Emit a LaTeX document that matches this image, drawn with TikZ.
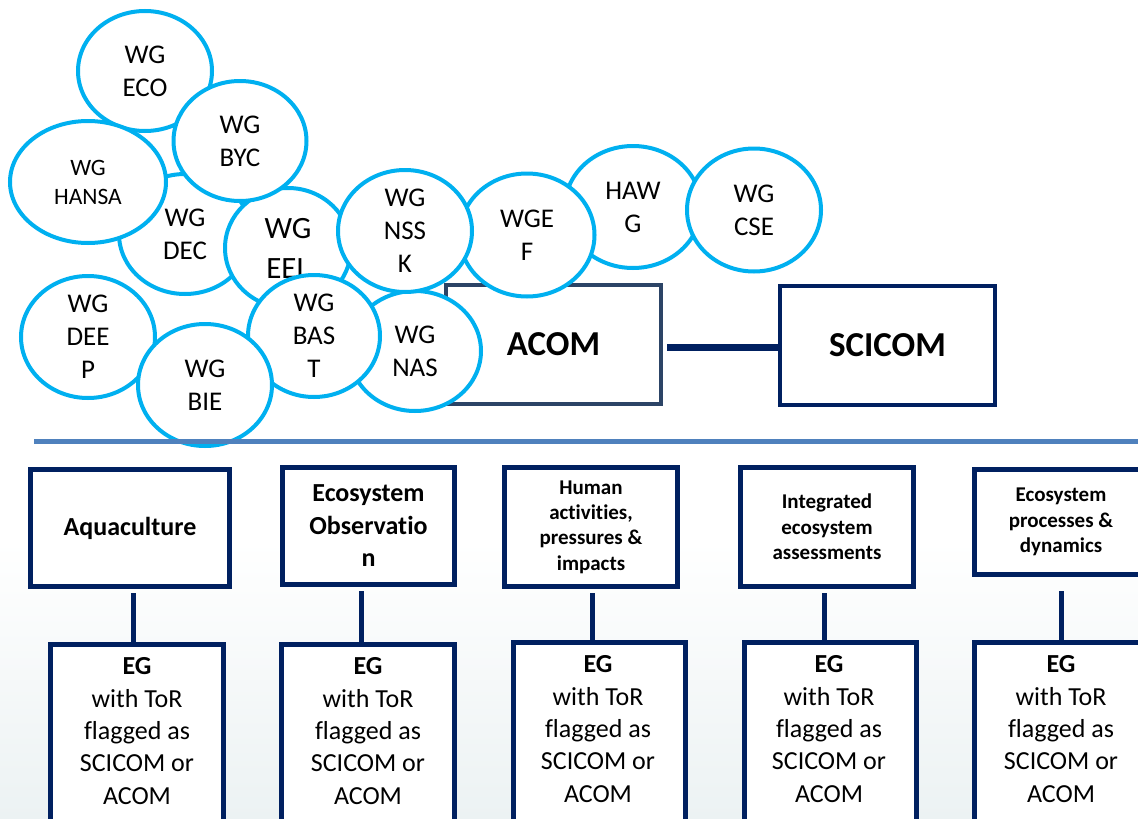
\documentclass[tikz,border=0pt]{standalone}
\usepackage{fontspec}
\setmainfont{Carlito}[Ligatures=NoCommon]
\usetikzlibrary{shapes.geometric,calc}
\definecolor{wgblue}{RGB}{0,176,240}
\definecolor{navy}{RGB}{0,32,96}
\definecolor{acomc}{RGB}{44,68,102}
\definecolor{sepc}{RGB}{79,129,189}
\definecolor{bgc}{RGB}{236,242,243}
\begin{document}
\begin{tikzpicture}[x=1pt,y=-1pt,
  wg/.style={ellipse, draw=wgblue, line width=4pt, fill=white, inner sep=0pt, align=center, font=\fontsize{27}{33}\selectfont},
  topic/.style={draw=navy, line width=5pt, fill=white, inner sep=0pt, align=center, font=\bfseries\fontsize{26}{32.5}\selectfont},
  topics/.style={topic, font=\bfseries\fontsize{21}{25.3}\selectfont},
  egbox/.style={draw=navy, line width=5pt, fill=white, inner sep=0pt, anchor=north, minimum height=240pt},
  egtext/.style={align=center, inner sep=0pt, font=\fontsize{26}{32.3}\selectfont},
  link/.style={draw=navy, line width=5pt},
  council/.style={line width=4pt, fill=white, inner sep=0pt, minimum width=215pt, minimum height=119pt, font=\bfseries\fontsize{35}{42}\selectfont},
  sepline/.style={draw=sepc, line width=5pt}
]
\useasboundingbox (0,0) rectangle (1138,819);
\clip (0,0) rectangle (1138,819);
\fill[white] (0,0) rectangle (1138,819);
\shade[top color=white, bottom color=bgc] (0,540) rectangle (1138,819);

% councils
\node[council, draw=acomc] (acom) at (553.5,344.5) {ACOM};
\node[council, draw=navy] (scicom) at (887.5,345.5) {SCICOM};

% working groups
\node[wg, minimum width=136pt, minimum height=122pt] (hawg) at (633,207) {HAW\\G};
\node[wg, minimum width=134pt, minimum height=123pt] (cse) at (754,210) {WG\\CSE};
\node[wg, minimum width=135pt, minimum height=123pt] (wgef) at (527,235) {WGE\\F};
\node[wg, minimum width=134pt, minimum height=120pt] (eco) at (145,71) {WG\\ECO};
\node[wg, minimum width=132pt, minimum height=120pt] (dec) at (185,234) {WG\\DEC};
\node[wg, minimum width=126pt, minimum height=120pt, font=\fontsize{31}{40}\selectfont] (eel) at (288,248) {WG\\EEL};
\node[wg, minimum width=132pt, minimum height=120pt] (nas) at (415,351) {WG\\NAS};
\node[wg, minimum width=132pt, minimum height=122pt] (bast) at (314,336) {WG\\BAS\\T};
\node[wg, minimum width=134pt, minimum height=122pt] (nssk) at (405,231) {WG\\NSS\\K};
\node[wg, minimum width=134pt, minimum height=122pt] (deep) at (88,337) {WG\\DEE\\P};
\node[wg, minimum width=134pt, minimum height=122pt] (bie) at (205,385) {WG\\BIE};
\node[wg, minimum width=156pt, minimum height=122pt, font=\fontsize{23.5}{29}\selectfont] (hansa) at (88,182) {WG\\HANSA};
\node[wg, minimum width=133pt, minimum height=120pt] (byc) at (240,141) {WG\\BYC};

\coordinate (ky) at (0,347);
\draw[navy, line width=7pt] ($(acom.east |- ky)+(4,0)$) -- (scicom.west |- ky);

% separator
\coordinate (s1) at (34,441);
\coordinate (s2) at (1140,441);
\draw[sepline] (s1) -- (s2);

% topic boxes
\node[topic, minimum width=199pt, minimum height=117pt] (t1) at (130,528) {Aquaculture};
\node[topic, minimum width=172pt, minimum height=117pt] (t2) at (368.5,526) {Ecosystem\\Observatio\\n};
\node[topics, minimum width=173pt, minimum height=119pt] (t3) at (591,527) {Human\\activities,\\pressures \&\\impacts};
\node[topics, minimum width=173pt, minimum height=119pt] (t4) at (827,527) {Integrated\\ecosystem\\assessments};
\node[topics, minimum width=173pt, minimum height=105pt] (t5) at (1061,522) {Ecosystem\\processes \&\\dynamics};

% EG boxes
\node[egbox, minimum width=173pt] (e1) at (137,641.5) {};
\node[egbox, minimum width=173pt] (e2) at (368,641.5) {};
\node[egbox, minimum width=172pt] (e3) at (599.5,639.5) {};
\node[egbox, minimum width=172pt] (e4) at (830.5,639.5) {};
\node[egbox, minimum width=173pt] (e5) at (1061,639.5) {};
\node[egtext] (e1t) at (137,731) {\textbf{EG}\\with ToR\\flagged as\\SCICOM or\\ACOM};
\node[egtext] (e2t) at (368,731) {\textbf{EG}\\with ToR\\flagged as\\SCICOM or\\ACOM};
\node[egtext] (e3t) at (598,729) {\textbf{EG}\\with ToR\\flagged as\\SCICOM or\\ACOM};
\node[egtext] (e4t) at (829,729) {\textbf{EG}\\with ToR\\flagged as\\SCICOM or\\ACOM};
\node[egtext] (e5t) at (1061,729) {\textbf{EG}\\with ToR\\flagged as\\SCICOM or\\ACOM};

% links
\coordinate (k1) at (133,0);
\coordinate (k2) at (361,0);
\coordinate (k3) at (592,0);
\coordinate (k4) at (824,0);
\coordinate (k5) at (1061,0);
\draw[link] ($(t1.south -| k1)+(0,4)$) -- (e1.north -| k1);
\draw[link] ($(t2.south -| k2)+(0,4)$) -- (e2.north -| k2);
\draw[link] ($(t3.south -| k3)+(0,4)$) -- (e3.north -| k3);
\draw[link] ($(t4.south -| k4)+(0,4)$) -- (e4.north -| k4);
\draw[link] ($(t5.south -| k5)+(0,14)$) -- (e5.north -| k5);
\end{tikzpicture}
\end{document}
